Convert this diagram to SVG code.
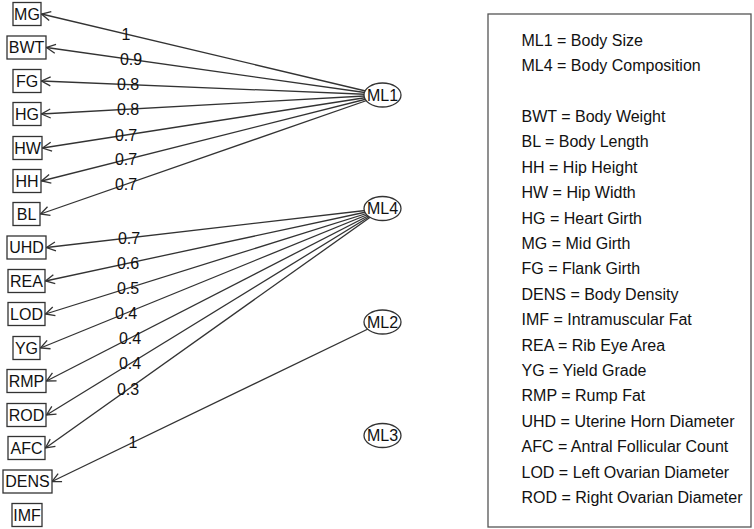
<svg xmlns="http://www.w3.org/2000/svg" width="754" height="529" viewBox="0 0 754 529">
<style>
text{font-family:"Liberation Sans",Arial,sans-serif;font-size:16px;fill:#111}
.nt{text-anchor:middle}
.box{fill:#fff;stroke:#333;stroke-width:1.3}
.lat{fill:#fff;stroke:#333;stroke-width:1.3}
.e{stroke:#333;stroke-width:1.3;fill:none;marker-end:url(#arr)}
.lb{text-anchor:middle}
.leg{fill:#fff;stroke:#555;stroke-width:1.3}
</style>
<defs>
<marker id="arr" markerUnits="userSpaceOnUse" markerWidth="12" markerHeight="12" viewBox="-11 -6 12 12" refX="0" refY="0" orient="auto">
<path d="M-9,-4.5 L0,0 L-9,4.5" fill="none" stroke="#333" stroke-width="1.3"/>
</marker>
</defs>
<rect width="754" height="529" fill="#fff"/>
<g id="connectors">
<line class="e" x1="382.5" y1="95" x2="41.5" y2="14"/>
<line class="e" x1="382.5" y1="95" x2="46.5" y2="47.5"/>
<line class="e" x1="382.5" y1="95" x2="41.5" y2="81"/>
<line class="e" x1="382.5" y1="95" x2="41.5" y2="114"/>
<line class="e" x1="382.5" y1="95" x2="42.5" y2="148"/>
<line class="e" x1="382.5" y1="95" x2="41.5" y2="181"/>
<line class="e" x1="382.5" y1="95" x2="40.5" y2="214"/>
<line class="e" x1="382.5" y1="208.5" x2="46.5" y2="247.5"/>
<line class="e" x1="382.5" y1="208.5" x2="45.5" y2="281"/>
<line class="e" x1="382.5" y1="208.5" x2="45.5" y2="314"/>
<line class="e" x1="382.5" y1="208.5" x2="40.5" y2="348"/>
<line class="e" x1="382.5" y1="208.5" x2="46.5" y2="381"/>
<line class="e" x1="382.5" y1="208.5" x2="46.5" y2="415"/>
<line class="e" x1="382.5" y1="208.5" x2="45.5" y2="448"/>
<line class="e" x1="382.5" y1="322" x2="52" y2="481.5"/>
<text class="lb" x="126" y="40">1</text>
<text class="lb" x="131" y="65.2">0.9</text>
<text class="lb" x="128" y="90.3">0.8</text>
<text class="lb" x="128" y="114.9">0.8</text>
<text class="lb" x="126" y="140.6">0.7</text>
<text class="lb" x="126" y="165.3">0.7</text>
<text class="lb" x="126" y="189.8">0.7</text>
<text class="lb" x="129" y="243.6">0.7</text>
<text class="lb" x="128" y="268.9">0.6</text>
<text class="lb" x="128" y="293.8">0.5</text>
<text class="lb" x="126" y="318.7">0.4</text>
<text class="lb" x="130" y="343.6">0.4</text>
<text class="lb" x="130" y="369.2">0.4</text>
<text class="lb" x="128" y="394.8">0.3</text>
<text class="lb" x="133" y="447.9">1</text>
</g>
<g id="MG"><rect class="box" x="13" y="2.5" width="28" height="23"/><text class="nt" x="27" y="19.7">MG</text></g>
<g id="BWT"><rect class="box" x="7" y="36" width="39" height="23"/><text class="nt" x="26.5" y="53.2">BWT</text></g>
<g id="FG"><rect class="box" x="13" y="69.5" width="28" height="23"/><text class="nt" x="27" y="86.7">FG</text></g>
<g id="HG"><rect class="box" x="13" y="102.5" width="28" height="23"/><text class="nt" x="27" y="119.7">HG</text></g>
<g id="HW"><rect class="box" x="13" y="136.5" width="29" height="23"/><text class="nt" x="27.5" y="153.7">HW</text></g>
<g id="HH"><rect class="box" x="13" y="169.5" width="28" height="23"/><text class="nt" x="27" y="186.7">HH</text></g>
<g id="BL"><rect class="box" x="13" y="202.5" width="27" height="23"/><text class="nt" x="26.5" y="219.7">BL</text></g>
<g id="UHD"><rect class="box" x="7" y="236" width="39" height="23"/><text class="nt" x="26.5" y="253.2">UHD</text></g>
<g id="REA"><rect class="box" x="8" y="269.5" width="37" height="23"/><text class="nt" x="26.5" y="286.7">REA</text></g>
<g id="LOD"><rect class="box" x="8" y="302.5" width="37" height="23"/><text class="nt" x="26.5" y="319.7">LOD</text></g>
<g id="YG"><rect class="box" x="13" y="336.5" width="27" height="23"/><text class="nt" x="26.5" y="353.7">YG</text></g>
<g id="RMP"><rect class="box" x="7" y="369.5" width="39" height="23"/><text class="nt" x="26.5" y="386.7">RMP</text></g>
<g id="ROD"><rect class="box" x="7" y="403.5" width="39" height="23"/><text class="nt" x="26.5" y="420.7">ROD</text></g>
<g id="AFC"><rect class="box" x="8" y="436.5" width="37" height="23"/><text class="nt" x="26.5" y="453.7">AFC</text></g>
<g id="DENS"><rect class="box" x="3" y="470" width="49" height="23"/><text class="nt" x="27.5" y="487.2">DENS</text></g>
<g id="IMF"><rect class="box" x="12" y="503.5" width="30" height="23"/><text class="nt" x="27" y="520.7">IMF</text></g>
<g id="ML1"><ellipse class="lat" cx="382.5" cy="95" rx="18.5" ry="12"/><text class="nt" x="382.5" y="100.7">ML1</text></g>
<g id="ML4"><ellipse class="lat" cx="382.5" cy="208.5" rx="18.5" ry="12"/><text class="nt" x="382.5" y="214.2">ML4</text></g>
<g id="ML2"><ellipse class="lat" cx="382.5" cy="322" rx="18.5" ry="12"/><text class="nt" x="382.5" y="327.7">ML2</text></g>
<g id="ML3"><ellipse class="lat" cx="382.5" cy="435.5" rx="18.5" ry="12"/><text class="nt" x="382.5" y="441.2">ML3</text></g>
<g id="legend">
<rect class="leg" x="488" y="14" width="263" height="513"/>
<text x="521.5" y="45.7">ML1 = Body Size</text>
<text x="521.5" y="71.1">ML4 = Body Composition</text>
<text x="521.5" y="121.9">BWT = Body Weight</text>
<text x="521.5" y="147.3">BL = Body Length</text>
<text x="521.5" y="172.7">HH = Hip Height</text>
<text x="521.5" y="198.1">HW = Hip Width</text>
<text x="521.5" y="223.5">HG = Heart Girth</text>
<text x="521.5" y="248.9">MG = Mid Girth</text>
<text x="521.5" y="274.3">FG = Flank Girth</text>
<text x="521.5" y="299.7">DENS = Body Density</text>
<text x="521.5" y="325.1">IMF = Intramuscular Fat</text>
<text x="521.5" y="350.5">REA = Rib Eye Area</text>
<text x="521.5" y="375.9">YG = Yield Grade</text>
<text x="521.5" y="401.3">RMP = Rump Fat</text>
<text x="521.5" y="426.7">UHD = Uterine Horn Diameter</text>
<text x="521.5" y="452.1">AFC = Antral Follicular Count</text>
<text x="521.5" y="477.5">LOD = Left Ovarian Diameter</text>
<text x="521.5" y="502.9">ROD = Right Ovarian Diameter</text>
</g>
</svg>
